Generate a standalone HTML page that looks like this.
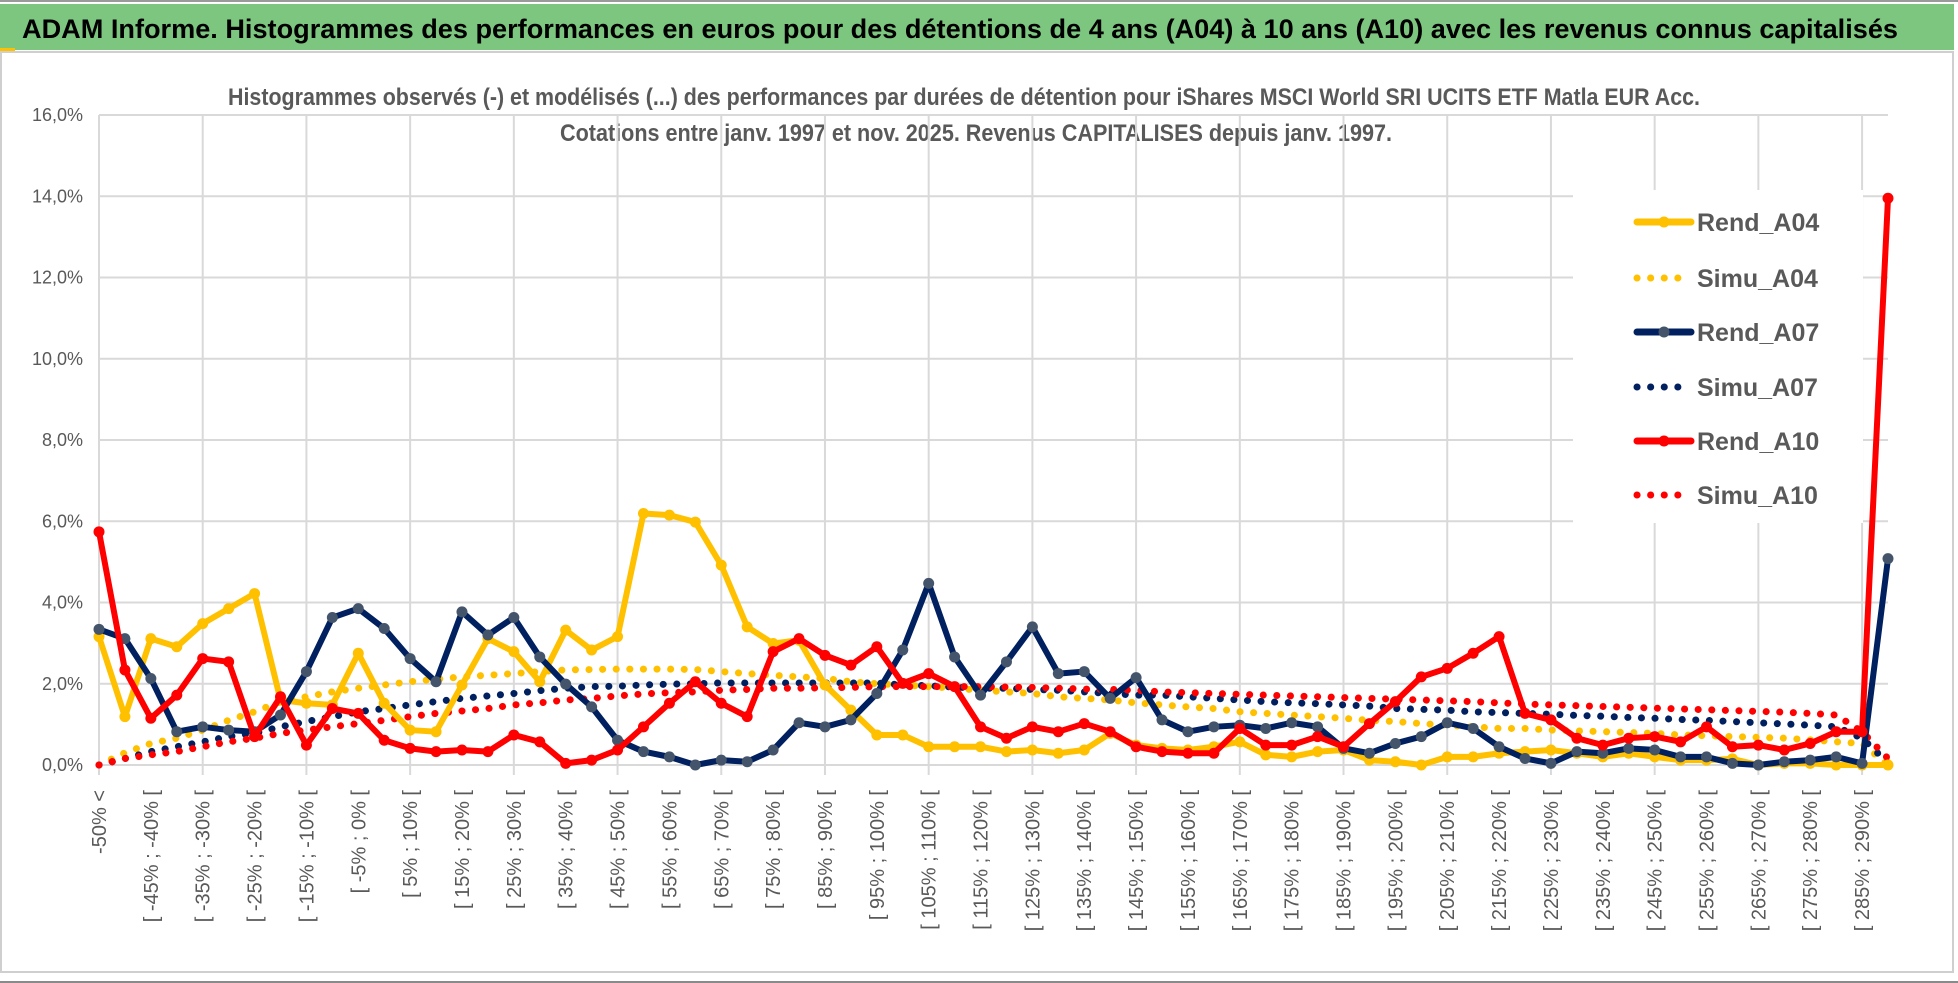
<!DOCTYPE html>
<html><head><meta charset="utf-8">
<style>
html,body{margin:0;padding:0;background:#fff;}
svg{display:block;font-family:"Liberation Sans",sans-serif;}
</style></head>
<body>
<svg id="chart" width="1958" height="983" viewBox="0 0 1958 983" xmlns="http://www.w3.org/2000/svg">
  <rect x="0" y="0" width="1958" height="983" fill="#fff"/>
  <line x1="0" y1="1" x2="1958" y2="1" stroke="#9a9a9a" stroke-width="2"/>
  <rect x="0" y="4" width="1954" height="46" fill="#7dc67f"/>
  <rect x="0" y="48" width="15" height="4" fill="#ffc000"/>
  <text x="22" y="38" font-size="27" font-weight="bold" fill="#000" textLength="1876" lengthAdjust="spacingAndGlyphs">ADAM Informe. Histogrammes des performances en euros pour des détentions de 4 ans (A04) à 10 ans (A10) avec les revenus connus capitalisés</text>
  <rect x="1" y="52" width="1952" height="920" fill="none" stroke="#cfcfcf" stroke-width="2"/>
  <line x1="0" y1="982" x2="1958" y2="982" stroke="#8a8a8a" stroke-width="2"/>
  <text x="228" y="105" font-size="24" font-weight="bold" fill="#595959" textLength="1472" lengthAdjust="spacingAndGlyphs">Histogrammes observés (-) et modélisés (...) des performances par durées de détention pour iShares MSCI World SRI UCITS ETF Matla EUR Acc.</text>
  <text x="560" y="141" font-size="24" font-weight="bold" fill="#595959" textLength="832" lengthAdjust="spacingAndGlyphs">Cotations entre janv. 1997 et nov. 2025. Revenus CAPITALISES depuis janv. 1997.</text>
  <g id="grid"></g>
  <g id="ylabels"></g>
  <g id="xlabels"></g>
  <g id="series"></g>
  <g id="legend"></g>
</svg>
<script>
const rendA04 = [3.16,1.19,3.11,2.91,3.48,3.85,4.22,1.6,1.52,1.48,2.75,1.52,0.86,0.82,1.97,3.11,2.79,2.05,3.32,2.83,3.16,6.19,6.15,5.98,4.92,3.40,2.99,3.07,1.97,1.35,0.74,0.74,0.45,0.45,0.45,0.33,0.37,0.29,0.37,0.78,0.49,0.41,0.37,0.45,0.57,0.25,0.2,0.33,0.37,0.12,0.08,0.0,0.2,0.2,0.29,0.33,0.37,0.29,0.2,0.29,0.2,0.12,0.12,0.15,0.0,0.04,0.04,0.0,0.0,0.0];
const simuA04 = [0,0.3,0.53,0.66,0.86,1.1,1.31,1.56,1.68,1.8,1.89,1.97,2.05,2.11,2.17,2.21,2.25,2.3,2.34,2.35,2.36,2.36,2.36,2.35,2.3,2.25,2.21,2.17,2.13,2.05,2.0,1.97,1.93,1.89,1.84,1.8,1.76,1.68,1.64,1.6,1.53,1.48,1.43,1.39,1.31,1.27,1.23,1.19,1.15,1.1,1.07,1.02,0.98,0.94,0.9,0.9,0.86,0.84,0.82,0.8,0.78,0.74,0.72,0.7,0.68,0.66,0.62,0.57,0.53,0.0];
const rendA07 = [3.34,3.11,2.13,0.82,0.94,0.86,0.82,1.23,2.30,3.63,3.85,3.36,2.62,2.05,3.77,3.20,3.63,2.66,1.99,1.43,0.61,0.33,0.2,0.0,0.12,0.08,0.37,1.04,0.94,1.11,1.76,2.83,4.47,2.66,1.72,2.54,3.40,2.25,2.30,1.64,2.15,1.11,0.82,0.94,0.98,0.90,1.04,0.94,0.41,0.29,0.53,0.70,1.04,0.90,0.45,0.16,0.04,0.33,0.29,0.41,0.37,0.2,0.2,0.04,0.0,0.08,0.12,0.2,0.04,5.08];
const simuA07 = [0,0.16,0.33,0.45,0.57,0.7,0.78,0.94,1.07,1.19,1.31,1.39,1.48,1.56,1.64,1.7,1.76,1.83,1.89,1.93,1.94,1.97,1.99,2.0,2.02,2.02,2.02,2.02,2.02,2.02,2.02,1.97,1.95,1.92,1.89,1.89,1.86,1.84,1.8,1.76,1.72,1.72,1.68,1.64,1.6,1.56,1.53,1.51,1.48,1.45,1.39,1.37,1.35,1.31,1.29,1.27,1.25,1.22,1.2,1.17,1.15,1.12,1.1,1.07,1.04,1.01,0.98,0.94,0.66,0.05];
const rendA10 = [5.74,2.34,1.15,1.72,2.62,2.54,0.70,1.68,0.49,1.39,1.27,0.61,0.41,0.33,0.37,0.33,0.74,0.57,0.04,0.12,0.37,0.94,1.52,2.05,1.52,1.19,2.79,3.11,2.70,2.46,2.91,2.01,2.25,1.93,0.94,0.66,0.94,0.82,1.02,0.82,0.45,0.33,0.29,0.29,0.90,0.49,0.49,0.70,0.45,1.02,1.56,2.17,2.38,2.75,3.16,1.27,1.11,0.66,0.49,0.66,0.70,0.57,0.94,0.45,0.49,0.37,0.53,0.82,0.82,13.95];
const simuA10 = [0,0.16,0.25,0.33,0.45,0.57,0.66,0.78,0.86,0.94,1.02,1.1,1.19,1.27,1.33,1.39,1.48,1.53,1.6,1.64,1.7,1.75,1.78,1.8,1.84,1.86,1.89,1.89,1.9,1.91,1.93,1.93,1.93,1.93,1.93,1.92,1.91,1.89,1.87,1.86,1.84,1.8,1.78,1.76,1.74,1.72,1.7,1.68,1.66,1.64,1.62,1.6,1.58,1.56,1.53,1.5,1.48,1.46,1.44,1.42,1.4,1.38,1.36,1.34,1.32,1.3,1.27,1.23,0.82,0.16];
const yTicks = [0,2,4,6,8,10,12,14,16];
const seriesNames = ["Rend_A04","Simu_A04","Rend_A07","Simu_A07","Rend_A10","Simu_A10"];

const NS = "http://www.w3.org/2000/svg";
const N = rendA04.length;
const X0 = 99, X1 = 1888, Y0 = 765, YTOP = 115;
function xs(i){ return X0 + i*(X1-X0)/(N-1); }
function ys(v){ return Y0 - v*(Y0-YTOP)/16; }
function mk(tag, attrs, parent){ const e=document.createElementNS(NS,tag); for(const k in attrs) e.setAttribute(k,attrs[k]); parent.appendChild(e); return e; }
function catLabel(i){ if(i===0) return "-50% <"; if(i===N-1) return "> 290%"; const a=-55+5*i; return "[ "+a+"% ; "+(a+5)+"% ["; }

const grid=document.getElementById('grid');
yTicks.forEach(t=>{
  const l=mk('line',{x1:X0,x2:X1,y1:ys(t),y2:ys(t),stroke:'#d9d9d9','stroke-width':2},grid);
  
  
});
for(let i=0;i<N;i+=4){
  const l=mk('line',{x1:xs(i),x2:xs(i),y1:YTOP,y2:Y0+10,stroke:'#d9d9d9','stroke-width':2},grid);
  
  
}
const yl=document.getElementById('ylabels');
yTicks.forEach(t=>{
  const e=mk('text',{x:83,y:ys(t)+6,'font-size':18,fill:'#595959','text-anchor':'end'},yl);
  e.textContent=t.toFixed(1).replace('.',',')+'%';
  
  
});
const xl=document.getElementById('xlabels');
for(let i=0;i<N-1;i+=2){
  const x=xs(i)+7, y=790;
  const e=mk('text',{x:x,y:y,'font-size':20,fill:'#595959','text-anchor':'end',transform:'rotate(-90 '+x+' '+y+')'},xl);
  e.textContent=catLabel(i);
  
  
}
// legend background
const lg=document.getElementById('legend');
const lbg=mk('rect',{x:1573,y:190,width:290,height:333,fill:'#fff'},lg);



const ser=document.getElementById('series');
function dotted(data,color,name){
  const pts=data.map((v,i)=>xs(i)+','+ys(v)).join(' ');
  const p=mk('polyline',{points:pts,fill:'none',stroke:color,'stroke-width':7,'stroke-linecap':'round','stroke-dasharray':'0.1 13.5'},ser);
  
  
}
function solid(data,color,mcolor,name){
  const g=mk('g',{},ser);
  
  
  const pts=data.map((v,i)=>xs(i)+','+ys(v)).join(' ');
  mk('polyline',{points:pts,fill:'none',stroke:color,'stroke-width':6,'stroke-linejoin':'round'},g);
  data.forEach((v,i)=>{
    const c=mk('circle',{cx:xs(i),cy:ys(v),r:5.5,fill:mcolor},g);
    
    
  });
}
dotted(simuA04,'#ffc000','simu-a04-line');
dotted(simuA07,'#002060','simu-a07-line');
dotted(simuA10,'#ff0000','simu-a10-line');
solid(rendA04,'#ffc000','#ffc000','rend-a04-line');
solid(rendA07,'#002060','#44546a','rend-a07-line');
solid(rendA10,'#ff0000','#ff0000','rend-a10-line');

// legend entries
const legColors=['#ffc000','#ffc000','#002060','#002060','#ff0000','#ff0000'];
const legMarker=['#ffc000',null,'#44546a',null,'#ff0000',null];
const legY=[222,278,332,387,441,495];
seriesNames.forEach((n,k)=>{
  const g=mk('g',{},lg);
  
  
  const y=legY[k];
  if(legMarker[k]){
    mk('line',{x1:1637,x2:1691,y1:y,y2:y,stroke:legColors[k],'stroke-width':7,'stroke-linecap':'round'},g);
    mk('circle',{cx:1664,cy:y,r:5.5,fill:legMarker[k]},g);
  } else {
    mk('line',{x1:1637,x2:1691,y1:y,y2:y,stroke:legColors[k],'stroke-width':7,'stroke-linecap':'round','stroke-dasharray':'0.1 13.5'},g);
  }
  const t=mk('text',{x:1697,y:y+9,'font-size':25,fill:'#595959','font-weight':'bold'},g);
  t.textContent=n;
});
</script>
</body></html>
